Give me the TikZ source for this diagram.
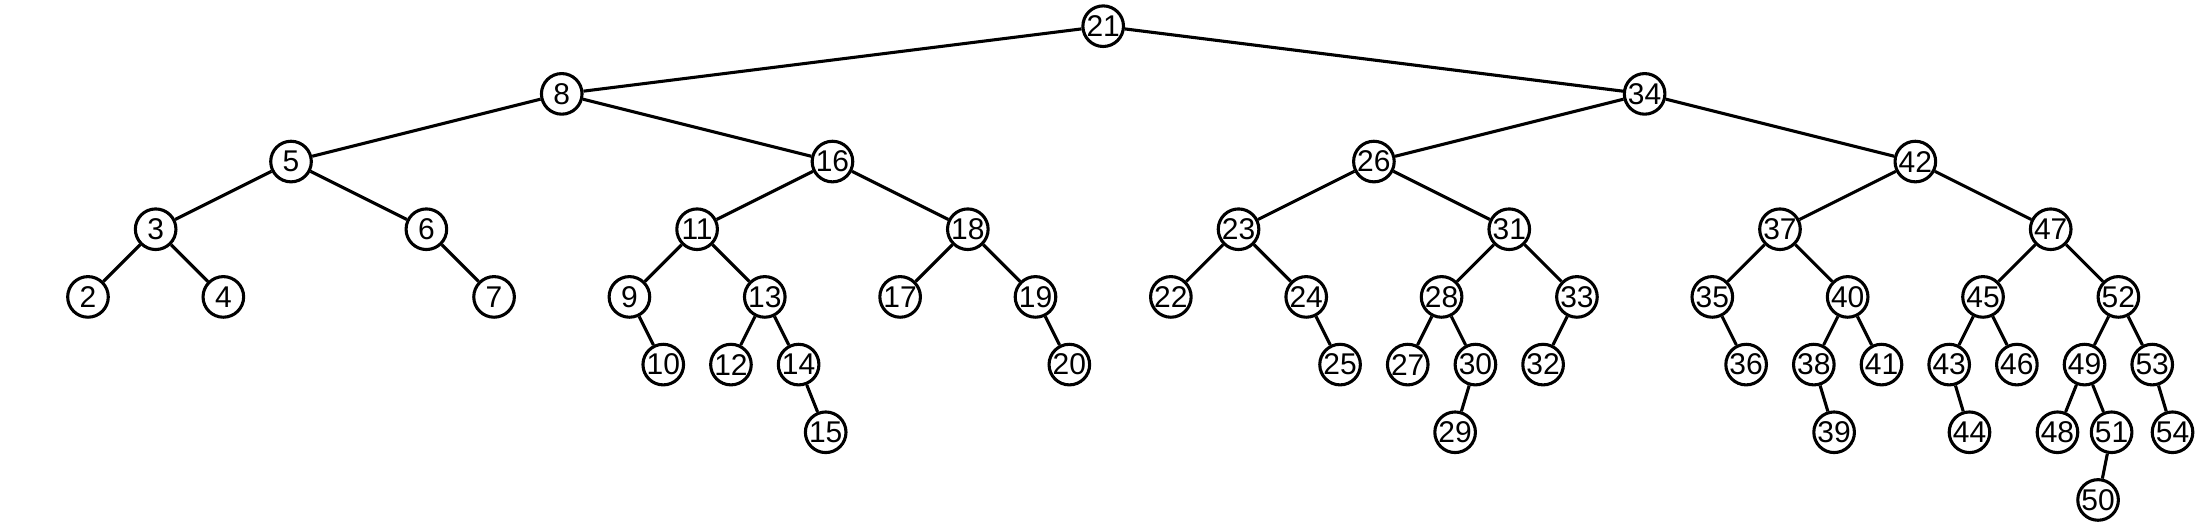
\documentclass[tikz,border=0pt]{standalone}
\usepackage{fontspec}
\setmainfont{Liberation Sans}
\begin{document}
\begin{tikzpicture}[
    key/.style={draw, circle, minimum size=0.6cm, inner sep=0pt,
                font=\fontsize{12.6}{12.6}\selectfont},
    line width=1.3pt]
    \useasboundingbox (-1.300,0.387) rectangle (31.206,-7.414);

    % Root and upper levels
    \node[key] (N21) at (15,0)  {21};
    \node[key] (N8)  at ( 7,-1) {8};
    \node[key] (N34) at (23,-1) {34};
    \node[key] (N5)  at ( 3,-2) {5};
    \node[key] (N16) at (11,-2) {16};
    \node[key] (N26) at (19,-2) {26};
    \node[key] (N42) at (27,-2) {42};

    \node[key] (N3)  at ( 1,-3) {3};
    \node[key] (N6)  at ( 5,-3) {6};
    \node[key] (N11) at ( 9,-3) {11};
    \node[key] (N18) at (13,-3) {18};
    \node[key] (N23) at (17,-3) {23};
    \node[key] (N31) at (21,-3) {31};
    \node[key] (N37) at (25,-3) {37};
    \node[key] (N47) at (29,-3) {47};

    \node[key] (N2)  at ( 0,-4) {2};
    \node[key] (N4)  at ( 2,-4) {4};
    \node[key] (N7)  at ( 6,-4) {7};
    \node[key] (N9)  at ( 8,-4) {9};
    \node[key] (N13) at (10,-4) {13};
    \node[key] (N17) at (12,-4) {17};
    \node[key] (N19) at (14,-4) {19};
    \node[key] (N22) at (16,-4) {22};
    \node[key] (N24) at (18,-4) {24};
    \node[key] (N28) at (20,-4) {28};
    \node[key] (N33) at (22,-4) {33};
    \node[key] (N35) at (24,-4) {35};
    \node[key] (N40) at (26,-4) {40};
    \node[key] (N45) at (28,-4) {45};
    \node[key] (N52) at (30,-4) {52};

    % Lower levels
    \node[key] (N10) at ( 8.5,-5) {10};
    \node[key] (N12) at ( 9.5,-5) {12};
    \node[key] (N14) at (10.5,-5) {14};
    \node[key] (N20) at (14.5,-5) {20};
    \node[key] (N25) at (18.5,-5) {25};
    \node[key] (N27) at (19.5,-5) {27};
    \node[key] (N30) at (20.5,-5) {30};
    \node[key] (N32) at (21.5,-5) {32};
    \node[key] (N36) at (24.5,-5) {36};
    \node[key] (N38) at (25.5,-5) {38};
    \node[key] (N41) at (26.5,-5) {41};
    \node[key] (N43) at (27.5,-5) {43};
    \node[key] (N46) at (28.5,-5) {46};
    \node[key] (N49) at (29.5,-5) {49};
    \node[key] (N53) at (30.5,-5) {53};

    \node[key] (N15) at (10.9,-6) {15};
    \node[key] (N29) at (20.2,-6) {29};
    \node[key] (N39) at (25.8,-6) {39};
    \node[key] (N44) at (27.8,-6) {44};
    \node[key] (N48) at (29.1,-6) {48};
    \node[key] (N51) at (29.9,-6) {51};
    \node[key] (N54) at (30.8,-6) {54};

    \node[key] (N50) at (29.7,-7) {50};

    % Edges
    \draw (N21) -- (N8)  (N21) -- (N34);
    \draw (N8)  -- (N5)  (N8)  -- (N16)  (N34) -- (N26)  (N34) -- (N42);
    \draw (N5)  -- (N3)  (N5)  -- (N6)   (N16) -- (N11)  (N16) -- (N18);
    \draw (N26) -- (N23) (N26) -- (N31)  (N42) -- (N37)  (N42) -- (N47);
    \draw (N3)  -- (N2)  (N3)  -- (N4)   (N6)  -- (N7);
    \draw (N11) -- (N9)  (N11) -- (N13)  (N18) -- (N17)  (N18) -- (N19);
    \draw (N23) -- (N22) (N23) -- (N24)  (N31) -- (N28)  (N31) -- (N33);
    \draw (N37) -- (N35) (N37) -- (N40)  (N47) -- (N45)  (N47) -- (N52);
    \draw (N9)  -- (N10) (N13) -- (N12)  (N13) -- (N14)  (N19) -- (N20);
    \draw (N24) -- (N25) (N28) -- (N27)  (N28) -- (N30)  (N33) -- (N32);
    \draw (N35) -- (N36) (N40) -- (N38)  (N40) -- (N41);
    \draw (N45) -- (N43) (N45) -- (N46)  (N52) -- (N49)  (N52) -- (N53);
    \draw (N14) -- (N15) (N30) -- (N29)  (N38) -- (N39)  (N43) -- (N44);
    \draw (N49) -- (N48) (N49) -- (N51)  (N53) -- (N54);
    \draw (N51) -- (N50);
\end{tikzpicture}
\end{document}
